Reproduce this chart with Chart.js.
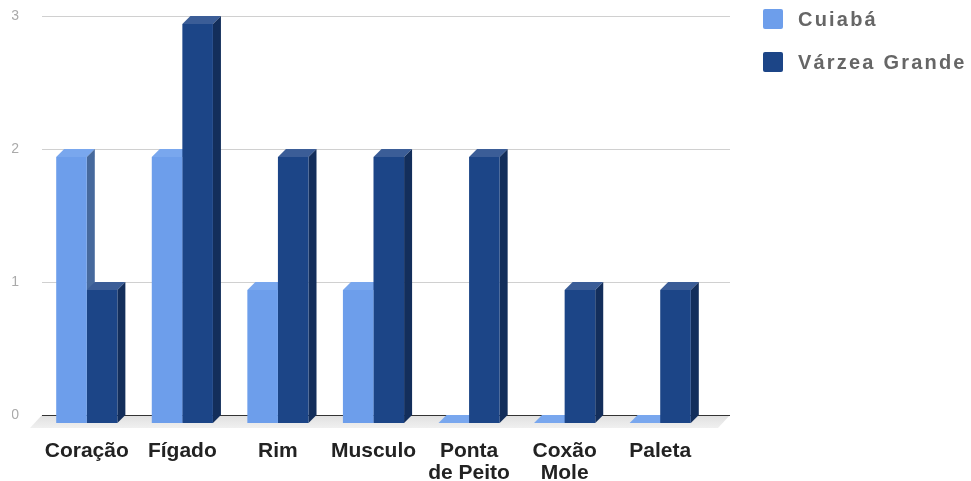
<!DOCTYPE html>
<html>
<head>
<meta charset="utf-8">
<script src="https://cdn.jsdelivr.net/npm/chart.js@4.4.1/dist/chart.umd.min.js"></script>
<style>
  html, body { margin: 0; padding: 0; background: #fff; }
  #wrap { position: relative; width: 971px; height: 481px; }
  #legend { position: absolute; left: 763px; top: 9px; font: bold 20px "Liberation Sans", Arial, sans-serif; color: #666; letter-spacing: 2.2px; }
  .item { display: flex; align-items: center; height: 20px; margin-bottom: 23px; white-space: nowrap; }
  .box { width: 20px; height: 20px; border-radius: 2px; margin-right: 15px; }
</style>
</head>
<body>
<div id="wrap">
  <canvas id="chart" width="971" height="481"></canvas>
  <div id="legend"></div>
</div>
<script>
const categories = [['Coração'], ['Fígado'], ['Rim'], ['Musculo'], ['Ponta', 'de Peito'], ['Coxão', 'Mole'], ['Paleta']];
const cuiaba = [2, 2, 1, 1, 0, 0, 0];
const varzeaGrande = [1, 3, 2, 2, 2, 1, 1];
const yTicks = [0, 1, 2, 3];
const seriesNames = ['Cuiabá', 'Várzea Grande'];

const colors = ['#6d9eeb', '#1c4587'];
const topColors = ['#79a7ee', '#3b5d97'];
const sideColors = ['#46699d', '#132e5b'];
const depth = 8;

// legend as html, built from the series
const legend = document.getElementById('legend');
seriesNames.forEach((name, i) => {
  const item = document.createElement('div');
  item.className = 'item';
  const box = document.createElement('span');
  box.className = 'box';
  box.style.background = colors[i];
  item.appendChild(box);
  item.appendChild(document.createTextNode(name));
  legend.appendChild(item);
});

// fake 3d: floor, grid on the back plane, top and side faces of the bars
const bars3d = {
  id: 'bars3d',
  beforeDatasetsDraw(chart) {
    const { ctx, chartArea, scales: { y } } = chart;
    const x0 = chartArea.left + 3, x1 = chartArea.right + 22;
    const yBase = y.getPixelForValue(0);

    ctx.save();
    const g = ctx.createLinearGradient(0, yBase, 0, yBase + 13);
    g.addColorStop(0, '#e0e0e0');
    g.addColorStop(1, '#f0f0f0');
    ctx.fillStyle = g;
    ctx.beginPath();
    ctx.moveTo(x0, yBase);
    ctx.lineTo(x1, yBase);
    ctx.lineTo(x1 - 12, yBase + 13);
    ctx.lineTo(x0 - 12, yBase + 13);
    ctx.closePath();
    ctx.fill();

    ctx.lineWidth = 1;
    yTicks.forEach(v => {
      const py = Math.round(y.getPixelForValue(v)) + 0.5;
      ctx.strokeStyle = v === 0 ? '#333' : '#d0d0d0';
      ctx.beginPath();
      ctx.moveTo(x0, py);
      ctx.lineTo(x1, py);
      ctx.stroke();
    });
    ctx.restore();

    // stays translated until afterDatasetsDraw so the fronts line up
    ctx.save();
    ctx.translate(0, depth);
    chart.data.datasets.forEach((ds, i) => {
      chart.getDatasetMeta(i).data.forEach(bar => {
        const l = bar.x - bar.width / 2, r = bar.x + bar.width / 2;
        const t = Math.min(bar.y, bar.base), b = Math.max(bar.y, bar.base);
        ctx.fillStyle = topColors[i];
        ctx.beginPath();
        ctx.moveTo(l, t);
        ctx.lineTo(l + depth, t - depth);
        ctx.lineTo(r + depth, t - depth);
        ctx.lineTo(r, t);
        ctx.closePath();
        ctx.fill();
        if (b - t > 0.5) {
          ctx.fillStyle = sideColors[i];
          ctx.beginPath();
          ctx.moveTo(r, t);
          ctx.lineTo(r + depth, t - depth);
          ctx.lineTo(r + depth, b - depth);
          ctx.lineTo(r, b);
          ctx.closePath();
          ctx.fill();
        }
      });
    });
  },
  afterDatasetsDraw(chart) {
    chart.ctx.restore();
  }
};

function noPad(scale) {
  scale.paddingLeft = 0;
  scale.paddingRight = 0;
  scale.paddingTop = 0;
  scale.paddingBottom = 0;
}

new Chart(document.getElementById('chart'), {
  type: 'bar',
  data: {
    labels: categories,
    datasets: [
      { label: seriesNames[0], data: cuiaba, backgroundColor: colors[0] },
      { label: seriesNames[1], data: varzeaGrande, backgroundColor: colors[1] }
    ]
  },
  options: {
    responsive: false,
    animation: false,
    categoryPercentage: 0.64,
    barPercentage: 1.0,
    clip: false,
    layout: { padding: { left: 12, right: 263, top: 16, bottom: 0 } },
    scales: {
      x: {
        grid: { display: false, drawTicks: false },
        border: { display: false },
        ticks: {
          color: '#222',
          font: { family: '"Liberation Sans", Arial, sans-serif', size: 21, weight: 'bold', lineHeight: 1.05 },
          padding: 25,
          maxRotation: 0,
          autoSkip: false
        },
        afterFit(scale) {
          noPad(scale);
          scale.height = 66;
        }
      },
      y: {
        min: 0,
        max: 3,
        grid: { display: false, drawTicks: false },
        border: { display: false },
        ticks: {
          stepSize: 1,
          color: '#aaa',
          font: { family: '"Liberation Sans", Arial, sans-serif', size: 14 },
          padding: 20
        },
        afterFit(scale) {
          noPad(scale);
          scale.width = 27;
        }
      }
    },
    plugins: {
      legend: { display: false },
      tooltip: { enabled: false }
    }
  },
  plugins: [bars3d]
});
</script>
</body>
</html>
